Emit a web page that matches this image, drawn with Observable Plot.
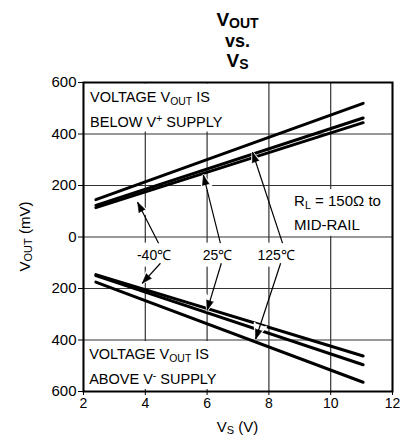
<!DOCTYPE html>
<html><head><meta charset="utf-8">
<script src="https://cdn.jsdelivr.net/npm/d3@7"></script>
<script src="https://cdn.jsdelivr.net/npm/@observablehq/plot@0.6"></script>
<style>body{margin:0;background:#fff;} svg{display:block}</style>
</head><body><div id="chart"></div>
<script>
// ---- data ----
const xTicks = [2, 4, 6, 8, 10, 12];
const yTicks = [-600, -400, -200, 0, 200, 400, 600];
const vsRange = [2.4, 11.05];                 // VS (V) at ends of each curve
// VOUT below V+ supply (plotted upward, mV)
const upperM40 = [145, 519];
const upper25 = [114, 444];
const upper125 = [123, 462];
// VOUT above V- supply (plotted downward, mV)
const lowerM40 = [-146, -462];
const lower25 = [-150, -496];
const lower125 = [-175, -564];
// temperature call-outs
const tempLabels = ["-40℃", "25℃", "125℃"];
const tempLabelX = [4.30, 6.35, 8.25];
const tempLabelY = -90;
const arrowX1 = [4.43, 6.43, 8.44, 4.49, 6.46, 8.38];
const arrowY1 = [-24, -24, -24, -102, -102, -102];
const arrowX2 = [3.75, 5.88, 7.47, 3.90, 6.00, 7.57];
const arrowY2 = [135, 240, 329, -180, -285, -397];

// ---- layout ----
const W = 401, H = 440, mt = 82, mr = 9, mb = 49, ml = 83;
const FONT = "'Liberation Sans', Arial, Helvetica, sans-serif";
const sx = d3.scaleLinear([2, 12], [ml, W - mr]);
const sy = d3.scaleLinear([-600, 600], [H - mb, mt]);

const series = [
  ["u-40", upperM40], ["u25", upper25], ["u125", upper125],
  ["l-40", lowerM40], ["l25", lower25], ["l125", lower125]
];
const rows = series.flatMap(([id, vals]) => vals.map((v, i) => ({id, vs: vsRange[i], v})));
const arrows = arrowX1.map((x1, i) => {
  const dx = sx(arrowX2[i]) - sx(x1), dy = sy(arrowY2[i]) - sy(arrowY1[i]);
  return {x1, y1: arrowY1[i], x2: arrowX2[i], y2: arrowY2[i], rot: Math.atan2(dx, -dy) * 180 / Math.PI};
});

const plot = Plot.plot({
  width: W, height: H, marginTop: mt, marginRight: mr, marginBottom: mb, marginLeft: ml,
  style: {fontFamily: FONT, fontSize: "15px", color: "black", background: "white"},
  x: {domain: [2, 12], ticks: xTicks, tickSize: 4, tickPadding: 3, label: null},
  y: {domain: [-600, 600], ticks: yTicks, tickSize: 5, tickPadding: 2, tickFormat: d => Math.abs(d), label: null},
  marks: [
    Plot.ruleX(xTicks, {stroke: "#333", strokeWidth: 1.2}),
    Plot.ruleY(yTicks, {stroke: "#333", strokeWidth: 1.2}),
    Plot.line(rows, {x: "vs", y: "v", z: "id", stroke: "black", strokeWidth: 3}),
    Plot.vector(arrows, {x: "x2", y: "y2", rotate: "rot", length: 15, r: 6, shape: "spike", anchor: "end", fill: "white", stroke: "white", strokeWidth: 2}),
    Plot.link(arrows, {x1: "x1", y1: "y1", x2: "x2", y2: "y2", stroke: "black", strokeWidth: 1.2}),
    Plot.vector(arrows, {x: "x2", y: "y2", rotate: "rot", length: 10, r: 3.5, shape: "spike", anchor: "end", fill: "black", stroke: "black", strokeWidth: 0.5}),
    Plot.frame({stroke: "black", strokeWidth: 2})
  ]
});
document.getElementById("chart").append(plot);

// ---- text with sub/superscripts ----
const svg = d3.select(plot);
svg.selectAll('g[aria-label^="x-axis"] text').style("font-size", "14px");
const lineG = plot.querySelector('[aria-label="line"]');

function richText(parent, x, y, segs, o) {
  const size = o.size, anchor = o.anchor || "start";
  const t = parent.append("text").attr("x", x).attr("y", y).attr("text-anchor", anchor)
    .attr("fill", "black").style("font-size", size + "px").style("font-family", FONT)
    .style("font-weight", o.weight || "normal");
  let off = 0;
  for (const s of segs) {
    const target = s.sub ? (o.subDy ?? 3) : s.sup ? (o.supDy ?? -5) : 0;
    const ts = t.append("tspan").text(s.t).attr("dy", target - off);
    if (s.sub || s.sup) ts.style("font-size", (o.subSize || size * 0.72) + "px");
    off = target;
  }
  return t;
}
function bg(nodes, pl, pr, pt, pb) {
  let x0 = Infinity, y0 = Infinity, x1 = -Infinity, y1 = -Infinity;
  for (const n of nodes) {
    const b = n.node().getBBox();
    x0 = Math.min(x0, b.x); y0 = Math.min(y0, b.y);
    x1 = Math.max(x1, b.x + b.width); y1 = Math.max(y1, b.y + b.height);
  }
  x0 = Math.max(x0 - pl, ml + 1); x1 = Math.min(x1 + pr, W - mr - 1);
  y0 = Math.max(y0 - pt, mt + 1); y1 = Math.min(y1 + pb, H - mb - 1);
  const r = document.createElementNS("http://www.w3.org/2000/svg", "rect");
  r.setAttribute("x", x0); r.setAttribute("y", y0);
  r.setAttribute("width", x1 - x0); r.setAttribute("height", y1 - y0);
  r.setAttribute("fill", "white");
  plot.insertBefore(r, lineG);
}

const ann = svg.append("g");
// upper box
const ub = [
  richText(ann, sx(2.23), sy(524), [{t: "VOLTAGE V"}, {t: "OUT", sub: true}, {t: " IS"}], {size: 14.5}),
  richText(ann, sx(2.23), sy(427), [{t: "BELOW V"}, {t: "+", sup: true}, {t: " SUPPLY"}], {size: 14.5})
];
bg(ub, 8, 12, 5, 2);
// lower box
const lb = [
  richText(ann, sx(2.2), sy(-476), [{t: "VOLTAGE V"}, {t: "OUT", sub: true}, {t: " IS"}], {size: 14.5}),
  richText(ann, sx(2.2), sy(-573), [{t: "ABOVE V"}, {t: "-", sup: true}, {t: " SUPPLY"}], {size: 14.5})
];
bg(lb, 8, 12, 5, 2);
// RL box
const rb = [
  richText(ann, sx(8.83), sy(118), [{t: "R"}, {t: "L", sub: true}, {t: " = 150Ω to"}], {size: 15}),
  richText(ann, sx(8.83), sy(26), [{t: "MID-RAIL"}], {size: 15})
];
bg(rb, 10, 8, 3, 3);
// temperature labels
tempLabels.forEach((s, i) => {
  const t = richText(ann, sx(tempLabelX[i]), sy(tempLabelY), [{t: s}], {size: 14, anchor: "middle"});
  bg([t], 2, 2, 4, 4);
});

// title: three lines
const cx = sx(7);
richText(svg, cx, 26, [{t: "V"}, {t: "OUT", sub: true}], {size: 19, weight: "bold", anchor: "middle", subSize: 14, subDy: 2});
richText(svg, cx, 46.5, [{t: "vs."}], {size: 18, weight: "bold", anchor: "middle"});
richText(svg, cx, 67, [{t: "V"}, {t: "S", sub: true}], {size: 19, weight: "bold", anchor: "middle", subSize: 14, subDy: 2});
// axis labels
const yl = svg.append("g").attr("transform", `translate(30,${sy(0)}) rotate(-90)`);
richText(yl, 0, 0, [{t: "V"}, {t: "OUT", sub: true}, {t: " (mV)"}], {size: 15, anchor: "middle", subSize: 11, subDy: 2});
richText(svg, sx(7), 432, [{t: "V"}, {t: "S", sub: true}, {t: " (V)"}], {size: 15, anchor: "middle", subSize: 11, subDy: 2});
</script>
</body></html>
